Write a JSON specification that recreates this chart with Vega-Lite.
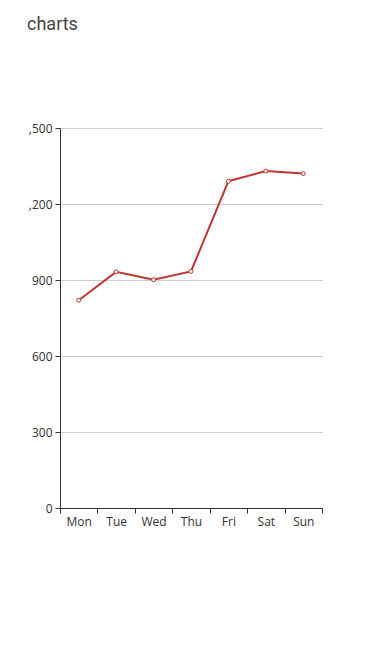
{
  "$schema": "https://vega.github.io/schema/vega-lite/v6.json",
  "width": 262,
  "height": 380,
  "autosize": {"type": "none"},
  "padding": {"left": 60, "top": 128, "right": 67, "bottom": 138},
  "background": "white",
  "title": {
    "text": "charts",
    "anchor": "start",
    "frame": "group",
    "font": "Roboto",
    "fontSize": 18,
    "fontWeight": "normal",
    "color": "#444444",
    "baseline": "alphabetic",
    "offset": 0,
    "dx": -33,
    "dy": -74
  },
  "data": {
    "values": [
      {"day": "Mon", "value": 820},
      {"day": "Tue", "value": 932},
      {"day": "Wed", "value": 901},
      {"day": "Thu", "value": 934},
      {"day": "Fri", "value": 1290},
      {"day": "Sat", "value": 1330},
      {"day": "Sun", "value": 1320}
    ]
  },
  "config": {
    "view": {"stroke": null},
    "axis": {
      "labelFont": "Open Sans",
      "labelFontSize": 12,
      "labelColor": "#333333",
      "domainColor": "#333333",
      "tickColor": "#333333",
      "tickSize": 5,
      "labelPadding": 3,
      "title": null
    }
  },
  "encoding": {
    "x": {
      "field": "day",
      "type": "ordinal",
      "sort": ["Mon", "Tue", "Wed", "Thu", "Fri", "Sat", "Sun"],
      "scale": {"paddingInner": 0, "paddingOuter": 0},
      "axis": {"labelAngle": 0, "tickBand": "extent", "grid": false, "title": null}
    },
    "y": {
      "field": "value",
      "type": "quantitative",
      "scale": {"domain": [0, 1500], "nice": false},
      "axis": {
        "values": [0, 300, 600, 900, 1200, 1500],
        "gridColor": "#cccccc",
        "labelExpr": "datum.value >= 1000 ? slice(format(datum.value, ','), 1) : datum.label",
        "title": null
      }
    }
  },
  "layer": [
    {
      "mark": {"type": "line", "color": "#c23531", "strokeWidth": 2}
    },
    {
      "mark": {"type": "point", "shape": "circle", "filled": true, "fill": "white", "stroke": "#c23531", "strokeWidth": 1, "size": 16, "opacity": 1}
    }
  ]
}
